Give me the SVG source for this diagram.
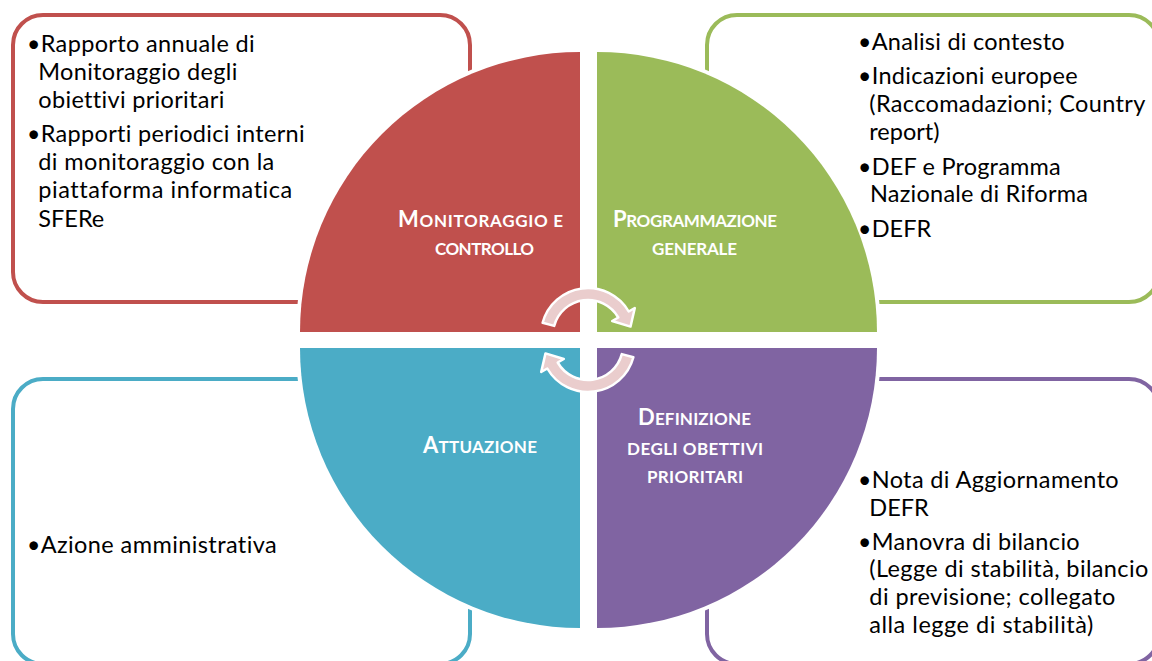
<svg xmlns="http://www.w3.org/2000/svg" width="1152" height="661" viewBox="0 0 1152 661">
<style>
.box{fill:#fff;stroke-width:4}
.q{stroke:#fff;stroke-width:8;paint-order:stroke}
.t{font-family:Lato,"Liberation Sans",sans-serif;font-size:23.5px;fill:#000;font-variant-ligatures:none}
.b{font-family:Lato,"Liberation Sans",sans-serif;font-size:23px;fill:#000}
.lbl{font-family:Lato,"Liberation Sans",sans-serif;font-weight:bold;fill:#fff;text-anchor:middle;font-size:17px}
.big{font-size:22px}
.arr{fill:#EACDCD;stroke:#fff;stroke-width:2.5;stroke-linejoin:round}
</style>
<rect width="1152" height="661" fill="#fff"/>
<g id="box-monitoraggio">
<rect class="box" x="13" y="15" width="457" height="287" rx="30" stroke="#C0504D"/>
</g>
<g id="box-programmazione">
<rect class="box" x="707" y="15" width="452" height="287" rx="30" stroke="#9BBB59"/>
</g>
<g id="box-attuazione">
<rect class="box" x="13" y="379" width="457" height="285" rx="30" stroke="#4BACC6"/>
</g>
<g id="box-definizione">
<rect class="box" x="707" y="379" width="452" height="285" rx="30" stroke="#8064A2"/>
</g>
<g id="q-monitoraggio">
<path class="q" fill="#C0504D" d="M580 332 L300 332 A280 280 0 0 1 580 52 Z"/>
<text class="lbl" x="480.5" y="227" textLength="165"><tspan class="big">M</tspan>ONITORAGGIO E</text>
<text class="lbl" x="484.5" y="255" textLength="99">CONTROLLO</text>
</g>
<g id="q-programmazione">
<path class="q" fill="#9BBB59" d="M597 332 L597 52 A280 280 0 0 1 877 332 Z"/>
<text class="lbl" x="695" y="227" textLength="164"><tspan class="big">P</tspan>ROGRAMMAZIONE</text>
<text class="lbl" x="694.5" y="255" textLength="85">GENERALE</text>
</g>
<g id="q-attuazione">
<path class="q" fill="#4BACC6" d="M580 348 L580 628 A280 280 0 0 1 300 348 Z"/>
<text class="lbl" x="480" y="453" textLength="114"><tspan class="big">A</tspan>TTUAZIONE</text>
</g>
<g id="q-definizione">
<path class="q" fill="#8064A2" d="M597 348 L877 348 A280 280 0 0 1 597 628 Z"/>
<text class="lbl" x="694.5" y="425" textLength="113"><tspan class="big">D</tspan>EFINIZIONE</text>
<text class="lbl" x="695" y="455" textLength="136">DEGLI OBETTIVI</text>
<text class="lbl" x="695" y="483" textLength="96">PRIORITARI</text>
</g>
<g id="connectors">
<path id="arrow-top" class="arr" d="M542.6 322.8 A47 47 0 0 1 628.7 311.5 L634.8 308 L630.5 326.6 L612.2 321 L618.3 317.5 A35 35 0 0 0 554.2 325.9 Z"/>
<path id="arrow-bottom" class="arr" transform="rotate(180 588 340)" d="M542.6 322.8 A47 47 0 0 1 628.7 311.5 L634.8 308 L630.5 326.6 L612.2 321 L618.3 317.5 A35 35 0 0 0 554.2 325.9 Z"/>
</g>
<g id="text-monitoraggio">
<text class="b" x="27" y="52">•</text>
<text class="t" x="40.7" y="52" textLength="214">Rapporto annuale di</text>
<text class="t" x="38.3" y="80" textLength="199">Monitoraggio degli</text>
<text class="t" x="38.3" y="108" textLength="186">obiettivi prioritari</text>
<text class="b" x="27" y="142">•</text>
<text class="t" x="40.7" y="142" textLength="264">Rapporti periodici interni</text>
<text class="t" x="38.3" y="170" textLength="236">di monitoraggio con la</text>
<text class="t" x="38.3" y="198" textLength="254">piattaforma informatica</text>
<text class="t" x="38.3" y="227">SFERe</text>
</g>
<g id="text-programmazione">
<text class="b" x="858" y="50">•</text>
<text class="t" x="871.7" y="50" textLength="193">Analisi di contesto</text>
<text class="b" x="858" y="83.5">•</text>
<text class="t" x="871.7" y="83.5" textLength="206">Indicazioni europee</text>
<text class="t" x="869.3" y="111.7" textLength="276">(Raccomadazioni; Country</text>
<text class="t" x="869.3" y="140">report)</text>
<text class="b" x="858" y="175">•</text>
<text class="t" x="871.7" y="175" textLength="189">DEF e Programma</text>
<text class="t" x="870" y="202.3" textLength="218">Nazionale di Riforma</text>
<text class="b" x="858" y="236.7">•</text>
<text class="t" x="871.7" y="236.7">DEFR</text>
</g>
<g id="text-attuazione">
<text class="b" x="27" y="553.3">•</text>
<text class="t" x="40.7" y="553.3" textLength="236">Azione amministrativa</text>
</g>
<g id="text-definizione">
<text class="b" x="858" y="488.3">•</text>
<text class="t" x="871.7" y="488.3" textLength="247">Nota di Aggiornamento</text>
<text class="t" x="869.3" y="515.7">DEFR</text>
<text class="b" x="858" y="550">•</text>
<text class="t" x="871.7" y="550" textLength="208">Manovra di bilancio</text>
<text class="t" x="869.3" y="577.3" textLength="279">(Legge di stabilità, bilancio</text>
<text class="t" x="869.3" y="605" textLength="246">di previsione; collegato</text>
<text class="t" x="869.3" y="633.3" textLength="224">alla legge di stabilità)</text>
</g>
</svg>
